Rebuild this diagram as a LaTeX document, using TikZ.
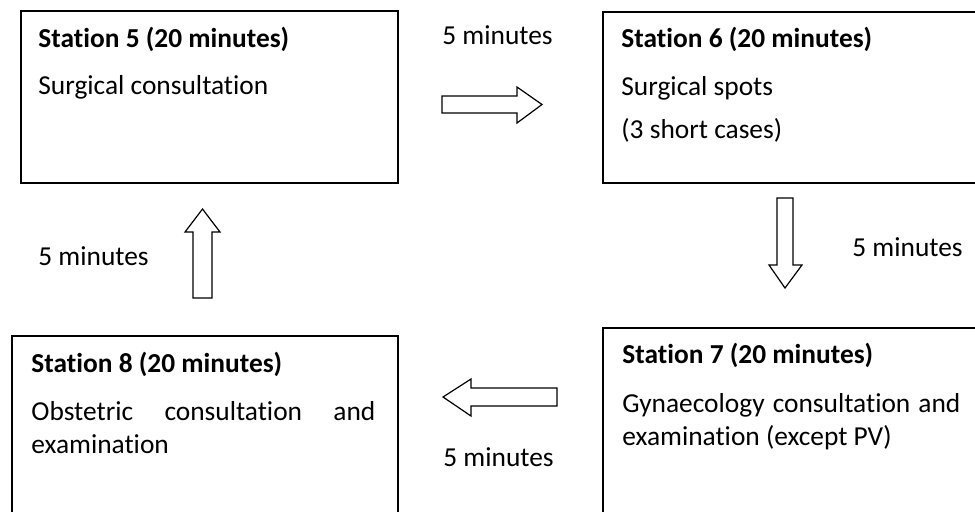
\documentclass[tikz,border=0pt]{standalone}
\usepackage{fontspec}
\setmainfont{Carlito}[Ligatures={NoCommon}]
\begin{document}
\begin{tikzpicture}[x=0.5pt,y=-0.5pt,
  box/.style={draw=black,line width=0.8pt,inner sep=0pt,anchor=north west},
  txt/.style={inner sep=0pt,anchor=base west,font=\fontsize{13.7}{16.5}\selectfont},
  hd/.style={txt,font=\fontsize{13.7}{16.5}\selectfont\bfseries},
  blockarrow/.style={draw=black,line width=0.6pt,fill=white,line join=miter}]
\useasboundingbox (0,0) rectangle (975,511);
\clip (0,0) rectangle (975,511);
% boxes
\node[box,minimum width=188.5pt,minimum height=86pt] (s5) at (20,10) {};
\node[box,minimum width=200pt,minimum height=85.5pt] (s6) at (602,11) {};
\node[box,minimum width=193pt,minimum height=100pt] (s8) at (11,335) {};
\node[box,minimum width=200pt,minimum height=105pt] (s7) at (602,327) {};
% station 5
\node[hd] (t5a) at (38,47) {Station 5 (20 minutes)};
\node[txt] (t5b) at (38,94) {Surgical consultation};
% station 6
\node[hd] (t6a) at (621,47) {Station 6 (20 minutes)};
\node[txt] (t6b) at (621,95) {Surgical spots};
\node[txt] (t6c) at (621,138) {(3 short cases)};
% station 8
\node[hd] (t8a) at (31,372) {Station 8 (20 minutes)};
\node[txt] (t8b) at (31,420) {\makebox[172pt][l]{Obstetric\hfill consultation\hfill and}};
\node[txt] (t8c) at (31,453) {examination};
% station 7
\node[hd] (t7a) at (622,363) {Station 7 (20 minutes)};
\node[txt] (t7b) at (622,412) {\makebox[169pt][l]{Gynaecology\hfill consultation\hfill and}};
\node[txt] (t7c) at (622,445) {examination (except PV)};
% labels
\node[txt] (m1) at (442,44) {5 minutes};
\node[txt] (m2) at (852,256) {5 minutes};
\node[txt] (m3) at (443,466) {5 minutes};
\node[txt] (m4) at (38,265) {5 minutes};
% block arrows
\draw[blockarrow] (442,96) -- (517,96) -- (517,87) -- (542,104.5) -- (517,123) -- (517,113) -- (442,113) -- cycle;
\draw[blockarrow] (777,198) -- (793,198) -- (793,265) -- (802,265) -- (785,288) -- (769,265) -- (777,265) -- cycle;
\draw[blockarrow] (557,388) -- (471,388) -- (471,379) -- (443,397) -- (471,416) -- (471,406) -- (557,406) -- cycle;
\draw[blockarrow] (193,298) -- (193,232) -- (185,232) -- (202.5,209) -- (220,232) -- (212,232) -- (212,298) -- cycle;
\end{tikzpicture}
\end{document}
